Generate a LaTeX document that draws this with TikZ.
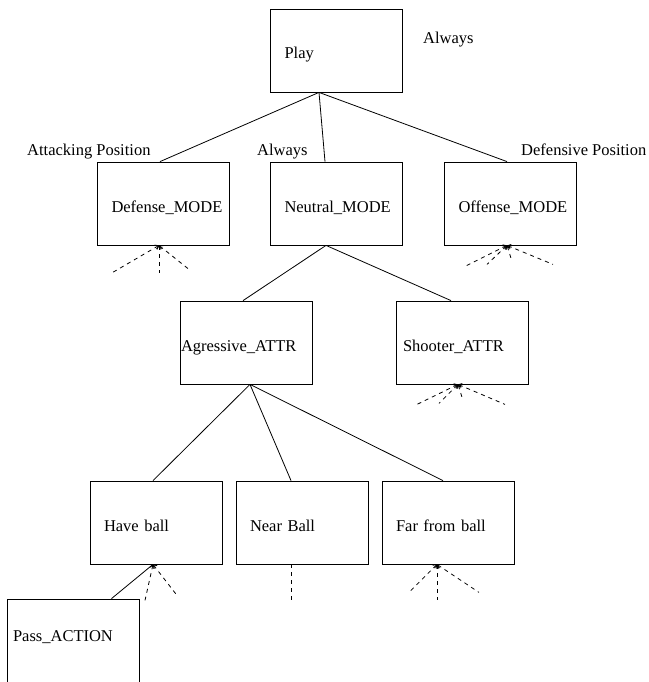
\documentclass[tikz,border=0pt]{standalone}
\usepackage{fontspec}
\setmainfont{Liberation Serif}
\usetikzlibrary{positioning, arrows.meta}

\begin{document}
\begin{tikzpicture}[x=1pt,y=-1pt,node distance=146pt,font=\fontsize{16.5}{19}\selectfont]
    \tikzstyle{box} = [rectangle, 
minimum height=83pt, 
inner xsep=14pt, 
text width=104pt, 
text height=21pt, % pushes the text a little below the middle
text depth=4pt,
align=left, 
line width=0.8pt,
draw=black]

\tikzstyle{cond} = [anchor=base west, inner sep=0pt]
\tikzstyle{edge} = [line width=0.8pt]
\tikzstyle{stub} = [line width=0.8pt, dash pattern=on 4pt off 4pt, {Straight Barb[length=3pt,width=5pt]}-]

\clip (0,0) rectangle (648,682);

\node (play) [box] at (336.5,50.5) {Play};
\node (neutral) [box, below of=play, yshift=-7pt] {Neutral\_MODE};
\node (defense) [box, left of=neutral, xshift=-27pt] {Defense\_MODE};
\node (offense) [box, right of=neutral, xshift=28pt] {Offense\_MODE};
\node (agressive) [box, below of=neutral, xshift=-90.5pt, yshift=7pt, inner xsep=1pt, text width=130pt] {Agressive\_ATTR};
\node (shooter) [box, right of=agressive, xshift=70pt, inner xsep=7pt, text width=118pt] {Shooter\_ATTR};
\node (nearball) [box, below of=agressive, xshift=56pt, yshift=-34pt] {Near Ball};
\node (haveball) [box, left of=nearball] {Have ball};
\node (farball) [box, right of=nearball] {Far from ball};
\node (pass) [box, below of=haveball, xshift=-83pt, yshift=28pt, inner xsep=6pt, text width=120pt, text height=5pt] {Pass\_ACTION};

% conditions next to the modes
\node (playcond) [cond] at (423,44) {Always};
\node (defensecond) [cond] at (27,155) {Attacking Position};
\node (neutralcond) [cond] at (257,155) {Always};
\node (offensecond) [cond] at (521,155) {Defensive Position};

\draw [edge] ([xshift=-17.5pt]play.south) -- ([xshift=-3.5pt]defense.north);
\draw [edge] ([xshift=-17.5pt]play.south) -- ([xshift=-11.5pt]neutral.north);
\draw [edge] ([xshift=-17.5pt]play.south) -- ([xshift=-3.5pt]offense.north);
\draw [edge] ([xshift=-10.5pt]neutral.south) -- ([xshift=-3pt]agressive.north);
\draw [edge] ([xshift=-10.5pt]neutral.south) -- ([xshift=-11pt]shooter.north);
\draw [edge] ([xshift=4pt]agressive.south) -- ([xshift=-3pt]haveball.north);
\draw [edge] ([xshift=4pt]agressive.south) -- ([xshift=-11pt]nearball.north);
\draw [edge] ([xshift=4pt]agressive.south) -- ([xshift=-5pt]farball.north);
\draw [edge] ([xshift=-3pt]haveball.south) -- ([xshift=38.5pt]pass.north);

% unexpanded children
\foreach \dx/\dy in {-48/28, 0/28, 30/24}
    \draw [stub] ([xshift=-4.5pt]defense.south) -- ++(\dx,\dy);
\foreach \dx/\dy in {-42/21, -20/19, 5/16, 46/19}
    \draw [stub] ([xshift=-3.5pt]offense.south) -- ++(\dx,\dy);
\foreach \dx/\dy in {-41/20, -19/19, 5/16, 47/20}
    \draw [stub] ([xshift=-4pt]shooter.south) -- ++(\dx,\dy);
\foreach \dx/\dy in {-8/36, 24/31}
    \draw [stub] ([xshift=-3pt]haveball.south) -- ++(\dx,\dy);
\draw [stub, -] ([xshift=-11pt]nearball.south) -- ++(0,36);
\foreach \dx/\dy in {-28/28, 0/36, 42/28}
    \draw [stub] ([xshift=-11pt]farball.south) -- ++(\dx,\dy);

\end{tikzpicture}
\end{document}
